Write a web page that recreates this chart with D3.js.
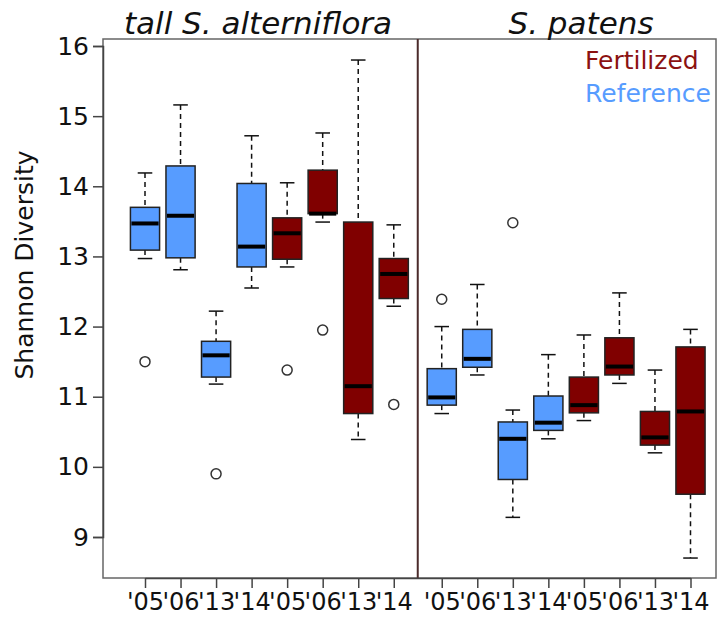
<!DOCTYPE html>
<html>
<head>
<meta charset="utf-8">
<script src="https://cdn.jsdelivr.net/npm/d3@7"></script>
<style>
  body { margin: 0; background: #fff; }
  text { font-family: "DejaVu Sans", Verdana, sans-serif; }
</style>
</head>
<body>
<svg id="chart" width="723" height="617"></svg>
<script>
// groups and labels
let groups = ['tall S. alterniflora', 'S. patens']
let treatments = ['Reference', 'Fertilized']
let years = ["'05", "'06", "'13", "'14"]
let yTicks = [9, 10, 11, 12, 13, 14, 15, 16]

// box stats, order: alterniflora ref '05..'14, alterniflora fert '05..'14, patens ref, patens fert
let whiskHi = [14.19, 15.16, 12.22, 14.72, 14.05, 14.76, 15.80, 13.45,
               12.00, 12.60, 10.81, 11.60, 11.88, 12.48, 11.38, 11.96]
let q3      = [13.70, 14.29, 11.79, 14.04, 13.55, 14.23, 13.49, 12.97,
               11.40, 11.96, 10.64, 11.01, 11.28, 11.84, 10.79, 11.71]
let median  = [13.47, 13.58, 11.59, 13.14, 13.33, 13.61, 11.15, 12.75,
               10.99, 11.54, 10.40, 10.63, 10.88, 11.43, 10.42, 10.79]
let q1      = [13.09, 12.98, 11.28, 12.85, 12.96, 13.61, 10.76, 12.40,
               10.88, 11.42,  9.82, 10.52, 10.77, 11.31, 10.31,  9.61]
let whiskLo = [12.97, 12.81, 11.18, 12.55, 12.85, 13.49, 10.39, 12.29,
               10.76, 11.31,  9.28, 10.40, 10.66, 11.19, 10.20,  8.70]

// outliers: which box, value
let outlierBox = [0, 2, 4, 5, 7, 8, 10]
let outlierVal = [11.50, 9.90, 11.38, 11.95, 10.89, 12.39, 13.48]

let colors = {Reference: '#579cff', Fertilized: '#800000'}

let svg = d3.select('#chart')

let plotL = 103, plotT = 39, plotR = 716, plotB = 578
let groupGap = 8.35

let boxes = whiskHi.map((d, i) => {
    let g = Math.floor(i / 8)
    let k = i % 8
    return {
        pos: 1 + k + g * groupGap,
        treatment: treatments[Math.floor(k / 4)],
        year: years[k % 4],
        hi: whiskHi[i], q3: q3[i], med: median[i], q1: q1[i], lo: whiskLo[i]
    }
})

let x = d3.scaleLinear().domain([1, 8 + groupGap]).range([145, 690.5])
let y = d3.scaleLinear().domain([9, 16]).range([537, 46])

let step = x(2) - x(1)
let boxW = step * 0.82
let capW = boxW * 0.5

// frame
svg.append('rect')
    .attr('x', plotL).attr('y', plotT)
    .attr('width', plotR - plotL).attr('height', plotB - plotT)
    .attr('fill', 'none').attr('stroke', '#666').attr('stroke-width', 1.5)

// divider between the two species
let divX = x((8 + 1 + groupGap) / 2)
svg.append('line')
    .attr('x1', divX).attr('x2', divX)
    .attr('y1', plotT).attr('y2', plotB)
    .attr('stroke', '#4b2b2b').attr('stroke-width', 2)

// axes
let yAxis = svg.append('g')
    .attr('transform', `translate(${plotL},0)`)
    .call(d3.axisLeft(y).tickValues(yTicks).tickFormat(d3.format('d'))
        .tickSize(10).tickPadding(4))
yAxis.select('.domain').attr('stroke', '#444').attr('stroke-width', 1.5)
yAxis.selectAll('.tick line').attr('stroke', '#444').attr('stroke-width', 1.5)
yAxis.selectAll('.tick text').attr('font-size', 25).attr('fill', '#111')
    .attr('font-family', '"DejaVu Sans", Verdana, sans-serif')

let xAxis = svg.append('g')
    .attr('transform', `translate(0,${plotB})`)
    .call(d3.axisBottom(x)
        .tickValues(boxes.map(b => b.pos))
        .tickFormat((d, i) => boxes[i].year)
        .tickSize(10).tickSizeOuter(0).tickPadding(5))
xAxis.select('.domain').attr('stroke', '#444').attr('stroke-width', 1.5)
xAxis.selectAll('.tick line').attr('stroke', '#444').attr('stroke-width', 1.5)
xAxis.selectAll('.tick text').attr('font-size', 24).attr('fill', '#111')
    .attr('font-family', '"DejaVu Sans", Verdana, sans-serif')

// whiskers
let bx = svg.append('g')
let dash = '5,4'
bx.selectAll('.whi').data(boxes).enter().append('line')
    .attr('x1', d => x(d.pos)).attr('x2', d => x(d.pos))
    .attr('y1', d => y(d.hi)).attr('y2', d => y(d.q3))
    .attr('stroke', '#111').attr('stroke-width', 1.5).attr('stroke-dasharray', dash)
bx.selectAll('.wlo').data(boxes).enter().append('line')
    .attr('x1', d => x(d.pos)).attr('x2', d => x(d.pos))
    .attr('y1', d => y(d.q1)).attr('y2', d => y(d.lo))
    .attr('stroke', '#111').attr('stroke-width', 1.5).attr('stroke-dasharray', dash)
bx.selectAll('.chi').data(boxes).enter().append('line')
    .attr('x1', d => x(d.pos) - capW / 2).attr('x2', d => x(d.pos) + capW / 2)
    .attr('y1', d => y(d.hi)).attr('y2', d => y(d.hi))
    .attr('stroke', '#111').attr('stroke-width', 1.5)
bx.selectAll('.clo').data(boxes).enter().append('line')
    .attr('x1', d => x(d.pos) - capW / 2).attr('x2', d => x(d.pos) + capW / 2)
    .attr('y1', d => y(d.lo)).attr('y2', d => y(d.lo))
    .attr('stroke', '#111').attr('stroke-width', 1.5)

// boxes
bx.selectAll('rect').data(boxes).enter().append('rect')
    .attr('x', d => x(d.pos) - boxW / 2)
    .attr('y', d => y(d.q3))
    .attr('width', boxW)
    .attr('height', d => y(d.q1) - y(d.q3))
    .attr('fill', d => colors[d.treatment])
    .attr('stroke', '#222').attr('stroke-width', 1.5)

// medians
bx.selectAll('.med').data(boxes).enter().append('line')
    .attr('x1', d => x(d.pos) - boxW / 2 + 1).attr('x2', d => x(d.pos) + boxW / 2 - 1)
    .attr('y1', d => y(d.med)).attr('y2', d => y(d.med))
    .attr('stroke', '#000').attr('stroke-width', 4)

// outliers
bx.selectAll('circle').data(outlierVal).enter().append('circle')
    .attr('cx', (d, i) => x(boxes[outlierBox[i]].pos))
    .attr('cy', d => y(d))
    .attr('r', 5)
    .attr('fill', 'none').attr('stroke', '#333').attr('stroke-width', 1.5)

// titles
let titleX = [258, 581]
svg.selectAll('.title').data(groups).enter().append('text')
    .attr('x', (d, i) => titleX[i]).attr('y', 34)
    .attr('text-anchor', 'middle')
    .attr('font-size', 31).attr('font-style', 'italic')
    .attr('fill', '#111')
    .text(d => d)

// legend
let legendOrder = ['Fertilized', 'Reference']
svg.selectAll('.leg').data(legendOrder).enter().append('text')
    .attr('x', 585).attr('y', (d, i) => 69 + i * 32.5)
    .attr('font-size', 25)
    .attr('fill', d => d === 'Fertilized' ? '#8b1111' : colors[d])
    .text(d => d)

// y label
svg.append('text')
    .attr('transform', 'translate(33,265) rotate(-90)')
    .attr('text-anchor', 'middle')
    .attr('font-size', 25).attr('fill', '#111')
    .text('Shannon Diversity')
</script>
</body>
</html>
